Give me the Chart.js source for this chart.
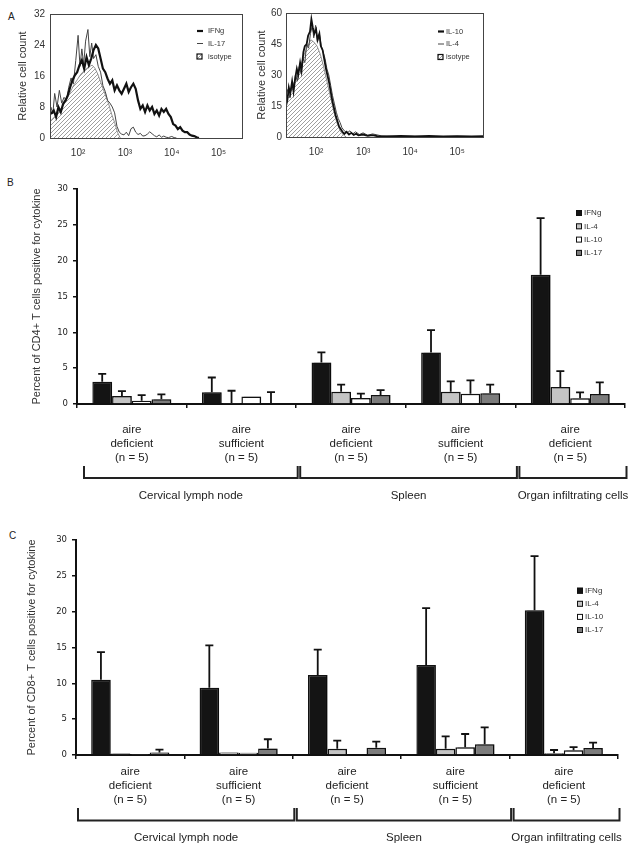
<!DOCTYPE html>
<html><head><meta charset="utf-8">
<script src="https://cdn.jsdelivr.net/npm/chart.js@4.4.1/dist/chart.umd.min.js"></script>
<style>
body{margin:0;background:#fff;width:638px;height:851px;position:relative;overflow:hidden;font-family:"Liberation Sans",Arial,sans-serif;}
canvas{position:absolute;}
.lbl{position:absolute;font-size:10px;line-height:11px;color:#222;}
</style></head><body>
<div class="lbl" style="left:8px;top:11px">A</div>
<div class="lbl" style="left:7px;top:177px">B</div>
<div class="lbl" style="left:9px;top:530px">C</div>
<canvas id="a1" width="250" height="165" style="left:0;top:0"></canvas>
<canvas id="a2" width="240" height="165" style="left:250px;top:0"></canvas>
<canvas id="b" width="638" height="330" style="left:0;top:175px"></canvas>
<canvas id="c" width="638" height="326" style="left:0;top:525px"></canvas>
<script>
// ---------- Panel A data (x = log10 fluorescence, y = relative cell count) ----------
const decades = [2, 3, 4, 5];
const histYTicksLeft = [0, 8, 16, 24, 32];
const histYTicksRight = [0, 15, 30, 45, 60];
const histLegendLeft = ['IFNg', 'IL-17', 'isotype'];
const histLegendRight = ['IL-10', 'IL-4', 'isotype'];

const ifngLog = [1.42,1.48,1.53,1.58,1.63,1.68,1.73,1.78,1.83,1.88,1.93,1.98,2.03,2.08,2.13,2.18,2.23,2.28,2.33,2.38,2.43,2.48,2.53,2.58,2.63,2.68,2.73,2.78,2.83,2.88,2.93,2.98,3.03,3.08,3.13,3.18,3.23,3.28,3.33,3.38,3.43,3.48,3.53,3.58,3.63,3.68,3.73,3.78,3.83,3.88,3.93,3.98,4.03,4.08,4.13,4.18,4.23,4.28,4.33,4.38,4.43,4.48,4.53,4.58];
const ifngCount = [6.2,7.1,5.4,8.0,6.7,8.8,9.7,11.0,13.1,14.9,16.2,17.0,18.8,20.1,17.9,20.9,18.8,20.5,22.7,24.0,23.1,20.5,17.9,17.0,15.3,14.0,14.9,12.3,13.6,12.3,11.4,12.7,14.0,11.9,13.1,14.0,12.7,9.7,7.5,8.4,6.7,8.4,7.1,8.0,6.2,7.1,5.8,7.5,6.7,7.5,6.2,5.4,3.6,3.2,2.3,2.8,1.9,1.5,1.5,0.9,0.6,0.5,0.2,0];

const il17Log = [1.42,1.46,1.50,1.55,1.60,1.65,1.70,1.75,1.80,1.85,1.90,1.95,2.00,2.04,2.08,2.12,2.16,2.21,2.25,2.29,2.33,2.38,2.43,2.48,2.53,2.58,2.63,2.68,2.73,2.78,2.83,2.88,2.93,2.98,3.03,3.08,3.13,3.18,3.23,3.28,3.33,3.38,3.43,3.48,3.53,3.58,3.63,3.68,3.73,3.78,3.83,3.88,3.93,4.00,4.05,4.10];
const il17Count = [8.0,6.2,11.5,8.0,12.3,9.0,10.5,9.7,13.1,15.5,14.0,20.0,26.5,18.5,23.0,19.0,25.0,28.0,21.0,24.5,20.5,21.5,18.5,17.0,13.5,12.0,9.7,9.0,8.0,6.5,3.0,1.5,1.0,0.8,1.5,0.6,2.4,2.8,1.5,0.9,1.2,0.5,0.6,1.0,1.6,1.1,0.6,0.3,0.8,0.2,0.5,0.2,0.1,0.4,0.1,0];

const isoALog = [1.42,1.50,1.58,1.66,1.74,1.82,1.90,1.98,2.06,2.14,2.22,2.30,2.36,2.42,2.48,2.54,2.60,2.66,2.72,2.78,2.84,2.90];
const isoACount = [4.5,5.5,6.5,8.0,9.5,11.5,13.5,15.0,16.5,17.5,18.3,18.8,18.0,16.5,14.5,12.5,10.5,8.5,6.0,4.0,1.5,0];

const il10Log = [1.36,1.39,1.42,1.45,1.49,1.52,1.56,1.59,1.62,1.66,1.69,1.73,1.76,1.80,1.83,1.87,1.90,1.93,1.96,2.00,2.03,2.07,2.10,2.14,2.17,2.21,2.24,2.28,2.31,2.35,2.38,2.42,2.45,2.49,2.52,2.56,2.60,2.65,2.70,2.75,2.80,2.85,2.90,3.00,3.10,3.20,3.30,3.50,3.80,4.10,4.40,4.70,5.00,5.30,5.55];
const il10Count = [15,18,24,21,27,22,29,33,30,36,32,41,44,45,49,51,57,53,50,52,47,50,44,42,38,33,30,26,22,17,14,10,8,5,4,2.5,1.5,2.5,1.2,2.0,1.0,1.6,0.8,1.2,0.6,0.9,0.4,0.3,0.5,0.3,0.5,0.3,0.4,0.3,0.4];

const il4Log = [1.36,1.40,1.44,1.48,1.52,1.56,1.60,1.64,1.68,1.72,1.76,1.80,1.84,1.88,1.92,1.95,1.99,2.03,2.07,2.11,2.15,2.19,2.23,2.27,2.31,2.35,2.39,2.43,2.47,2.51,2.55,2.60,2.66,2.72,2.78,2.84,2.92,3.00,3.10,3.20,3.40,3.70,4.00,4.50,5.00,5.55];
const il4Count = [20,23,19,25,23,30,27,34,31,38,36,45,43,50,54,48,54,46,50,44,41,38,33,30,25,20,16,12,9,7,4.5,3,2,3,1.5,2.5,1.2,2.0,0.8,1.5,0.5,0.3,0.4,0.2,0.3,0.2];

const isoBLog = [1.36,1.40,1.47,1.54,1.61,1.68,1.75,1.82,1.89,1.95,2.02,2.09,2.16,2.23,2.30,2.37,2.44,2.51,2.58,2.64];
const isoBCount = [17,20,23,27,31,35,40,44,47,46,44,40,34,27,20,13,7,3,1,0];

// ---------- Panels B & C data ----------
const categories = [['aire','deficient','(n = 5)'],['aire','sufficient','(n = 5)'],['aire','deficient','(n = 5)'],['aire','sufficient','(n = 5)'],['aire','deficient','(n = 5)']];
const tissueGroups = ['Cervical lymph node', 'Spleen', 'Organ infiltrating cells'];
const tissueSpans = [[0, 2], [2, 4], [4, 5]];
const cytokines = ['IFNg', 'IL-4', 'IL-10', 'IL-17'];
const barYTicks = [0, 5, 10, 15, 20, 25, 30];

const cd4IFNg   = [3.1, 1.65, 5.8, 7.2, 18.05];
const cd4IL4    = [1.1, 0.15, 1.72, 1.72, 2.37];
const cd4IL10   = [0.46, 1.05, 0.84, 1.44, 0.79];
const cd4IL17   = [0.65, 0.1, 1.26, 1.49, 1.4];
const cd4IFNgErr = [4.2, 3.7, 7.2, 10.3, 25.95];
const cd4IL4Err  = [1.8, 1.85, 2.7, 3.16, 4.6];
const cd4IL10Err = [1.25, 1.05, 1.44, 3.3, 1.63];
const cd4IL17Err = [1.35, 1.67, 1.95, 2.7, 3.02];

const cd8IFNg   = [10.5, 9.4, 11.15, 12.55, 20.2];
const cd8IL4    = [0.2, 0.35, 0.88, 0.88, 0.23];
const cd8IL10   = [0.15, 0.3, 0.1, 1.07, 0.65];
const cd8IL17   = [0.35, 0.9, 1.02, 1.49, 0.98];
const cd8IFNgErr = [14.35, 15.3, 14.7, 20.5, 27.75];
const cd8IL4Err  = [0.2, 0.35, 2.0, 2.6, 0.7];
const cd8IL10Err = [0.15, 0.3, 0.1, 2.93, 1.1];
const cd8IL17Err = [0.75, 2.2, 1.86, 3.86, 1.72];

// ---------- rendering ----------
const FONT = '"Liberation Sans", Arial, sans-serif';
Chart.defaults.font.family = FONT;
const sup = {2: '\u00B2', 3: '\u00B3', 4: '\u2074', 5: '\u2075'};
const pts = (xs, ys) => xs.map((x, i) => ({x, y: ys[i]}));

function makeHatch(ctx) {
  const c = document.createElement('canvas'); c.width = 4; c.height = 4;
  const g = c.getContext('2d');
  g.fillStyle = '#fff'; g.fillRect(0, 0, 4, 4);
  g.strokeStyle = '#8c8c8c'; g.lineWidth = 0.85;
  g.beginPath();
  g.moveTo(0, 4); g.lineTo(4, 0);
  g.moveTo(-1, 1); g.lineTo(1, -1);
  g.moveTo(3, 5); g.lineTo(5, 3);
  g.stroke();
  return ctx.createPattern(c, 'repeat');
}

function histChart(id, o) {
  const canvas = document.getElementById(id);
  const ctx = canvas.getContext('2d');
  const hatch = makeHatch(ctx);
  new Chart(ctx, {
    type: 'line',
    data: { datasets: [
      { data: pts(o.thick[0], o.thick[1]), borderColor: '#111', borderWidth: o.thickW, fill: false },
      { data: pts(o.thin[0], o.thin[1]), borderColor: '#444', borderWidth: 1, fill: false },
      { data: pts(o.iso[0], o.iso[1]), borderColor: '#777', borderWidth: 0.8, backgroundColor: hatch, fill: 'origin' }
    ]},
    options: {
      responsive: false, animation: false, devicePixelRatio: 1,
      layout: { padding: { top: o.padTop, right: o.padRight, left: 0, bottom: 0 } },
      plugins: { legend: { display: false }, tooltip: { enabled: false } },
      elements: { point: { radius: 0 }, line: { tension: 0 } },
      scales: {
        x: { type: 'linear', min: o.xmin, max: o.xmax,
          afterBuildTicks: s => { s.ticks = decades.map(v => ({value: v})); },
          afterFit: s => { s.height = o.xh; },
          grid: { display: false, drawTicks: false }, border: { display: false },
          ticks: { padding: 9, font: { size: 10 }, color: '#333', callback: v => '10' + sup[v] } },
        y: { min: 0, max: o.ymax,
          afterBuildTicks: s => { s.ticks = o.yticks.map(v => ({value: v})); },
          afterFit: s => { s.width = o.yw; },
          grid: { display: false, drawTicks: false }, border: { display: false },
          ticks: { padding: o.ytickPad, font: { size: 10 }, color: '#333' },
          title: { display: true, text: 'Relative cell count', color: '#333', font: { size: 11 }, padding: { top: o.titlePad, bottom: 0 } } }
      }
    },
    plugins: [{
      id: 'boxAndLegend',
      afterDraw(chart) {
        const c = chart.ctx, a = chart.chartArea;
        c.save();
        c.strokeStyle = '#444'; c.lineWidth = 1;
        c.strokeRect(Math.round(a.left) + 0.5, Math.round(a.top) + 0.5, Math.round(a.right - a.left), Math.round(a.bottom - a.top));
        c.font = '7.5px ' + FONT; c.textBaseline = 'middle';
        o.legend.forEach((name, i) => {
          const y = o.legY[i];
          if (i < 2) {
            c.strokeStyle = i === 0 ? '#111' : '#444';
            c.lineWidth = i === 0 ? 2.2 : 1;
            c.beginPath(); c.moveTo(o.legX0, y); c.lineTo(o.legX0 + 6, y); c.stroke();
          } else {
            c.fillStyle = hatch; c.fillRect(o.legX0, y - 2.5, 5, 5);
            c.strokeStyle = '#111'; c.lineWidth = 1.2; c.strokeRect(o.legX0, y - 2.5, 5, 5);
          }
          c.fillStyle = '#333'; c.fillText(name, o.legTx, y);
        });
        c.restore();
      }
    }]
  });
}

histChart('a1', {
  thick: [ifngLog, ifngCount], thin: [il17Log, il17Count], iso: [isoALog, isoACount], thickW: 2.2,
  xmin: 1.40, xmax: 5.50, ymax: 32, yticks: histYTicksLeft,
  padTop: 14, padRight: 8, xh: 27, yw: 50, ytickPad: 5, titlePad: 16.5,
  legend: histLegendLeft, legY: [31, 43.5, 56.5], legX0: 197, legTx: 208
});
histChart('a2', {
  thick: [il10Log, il10Count], thin: [il4Log, il4Count], iso: [isoBLog, isoBCount], thickW: 1.8,
  xmin: 1.36, xmax: 5.55, ymax: 60, yticks: histYTicksRight,
  padTop: 13, padRight: 7, xh: 28, yw: 36, ytickPad: 4, titlePad: 5.5,
  legend: histLegendRight, legY: [31.5, 44, 57], legX0: 188, legTx: 196
});

const barFills = ['#141414', '#c4c4c4', '#ffffff', '#7c7c7c'];

function barChart(id, o) {
  const ctx = document.getElementById(id).getContext('2d');
  new Chart(ctx, {
    type: 'bar',
    data: { labels: categories, datasets: cytokines.map((name, i) => ({
      label: name, data: o.values[i], backgroundColor: barFills[i], borderColor: '#111',
      borderWidth: 1.5, borderSkipped: 'bottom', categoryPercentage: 0.72, barPercentage: 1
    })) },
    options: {
      responsive: false, animation: false, devicePixelRatio: 1,
      layout: { padding: { top: o.padTop, right: o.padRight, left: 0, bottom: 0 } },
      plugins: { legend: { display: false }, tooltip: { enabled: false } },
      scales: {
        x: { afterFit: s => { s.height = o.xh; },
          grid: { offset: true, drawOnChartArea: false, drawTicks: true, tickLength: 4, color: '#111', lineWidth: 1.5 },
          border: { display: true, color: '#111', width: 2 },
          ticks: { padding: o.xTickPad, autoSkip: false, maxRotation: 0, color: '#222', font: { size: 11.5, lineHeight: 1.22 } } },
        y: { min: 0, max: 30,
          afterBuildTicks: s => { s.ticks = barYTicks.map(v => ({value: v})); },
          afterFit: s => { s.width = o.yw; },
          grid: { drawOnChartArea: false, drawTicks: true, tickLength: 4, color: '#111', lineWidth: 1.5 },
          border: { display: true, color: '#111', width: 2 },
          ticks: { padding: 5, color: '#222', font: { family: '"DejaVu Sans", Verdana, sans-serif', size: 8.5 } },
          title: { display: true, text: o.title, color: '#333', font: { size: 11 }, padding: { top: o.titlePad, bottom: 0 } } }
      }
    },
    plugins: [{
      id: 'shadowErrBracket',
      beforeDatasetsDraw(chart) {
        const c = chart.ctx; c.save();
        c.shadowColor = 'rgba(0,0,0,0.38)'; c.shadowOffsetX = 2.5; c.shadowOffsetY = 0; c.shadowBlur = 0;
      },
      afterDatasetsDraw(chart) {
        const c = chart.ctx; c.restore();
        const ys = chart.scales.y;
        c.save(); c.strokeStyle = '#111'; c.lineWidth = 1.8;
        chart.data.datasets.forEach((ds, i) => {
          chart.getDatasetMeta(i).data.forEach((bar, j) => {
            const top = o.errs[i][j];
            if (top <= o.values[i][j] + 0.05) return;
            const yT = ys.getPixelForValue(top);
            c.beginPath(); c.moveTo(bar.x, bar.y); c.lineTo(bar.x, yT);
            c.moveTo(bar.x - 4, yT); c.lineTo(bar.x + 4, yT); c.stroke();
          });
        });
        c.restore();
      },
      afterDraw(chart) {
        const c = chart.ctx, xs = chart.scales.x, a = chart.chartArea;
        const w = (xs.right - xs.left) / categories.length;
        const bx = k => xs.left + k * w;
        c.save();
        c.strokeStyle = '#222'; c.lineWidth = 2;
        c.font = '11.5px ' + FONT; c.fillStyle = '#222'; c.textAlign = 'center'; c.textBaseline = 'middle';
        tissueSpans.forEach((sp, g) => {
          const x0 = bx(sp[0]) + (g === 0 ? o.firstInset : 4), x1 = bx(sp[1]) + 1.5;
          const y0 = a.bottom + o.brTop, y1 = a.bottom + o.brBot;
          c.beginPath(); c.moveTo(x0, y0); c.lineTo(x0, y1); c.lineTo(x1, y1); c.lineTo(x1, y0); c.stroke();
          c.fillText(tissueGroups[g], (x0 + x1) / 2, a.bottom + o.grpY);
        });
        // legend
        c.font = '8px ' + FONT; c.textAlign = 'left';
        cytokines.forEach((name, i) => {
          const y = o.legY0 + i * o.legStep;
          c.fillStyle = barFills[i]; c.fillRect(o.legX, y - 3, 6, 6);
          c.strokeStyle = '#111'; c.lineWidth = 1; c.strokeRect(o.legX + 0.5, y - 2.5, 5, 5);
          c.fillStyle = '#333'; c.fillText(name, o.legX + 8, y);
        });
        c.restore();
      }
    }]
  });
}

barChart('b', {
  values: [cd4IFNg, cd4IL4, cd4IL10, cd4IL17], errs: [cd4IFNgErr, cd4IL4Err, cd4IL10Err, cd4IL17Err],
  title: 'Percent of CD4+ T cells positive for cytokine', titlePad: 30.4,
  padTop: 14, padRight: 13, xh: 101, yw: 77, xTickPad: 15,
  brTop: 62, brBot: 74, grpY: 92, firstInset: 7,
  legX: 576, legY0: 38, legStep: 13.3
});
barChart('c', {
  values: [cd8IFNg, cd8IL4, cd8IL10, cd8IL17], errs: [cd8IFNgErr, cd8IL4Err, cd8IL10Err, cd8IL17Err],
  title: 'Percent of CD8+ T cells positive for cytokine', titlePad: 25.4,
  padTop: 15, padRight: 20, xh: 96, yw: 76, xTickPad: 6,
  brTop: 53, brBot: 65.5, grpY: 83, firstInset: 2,
  legX: 577, legY0: 65.7, legStep: 13.1
});
</script>
</body></html>
